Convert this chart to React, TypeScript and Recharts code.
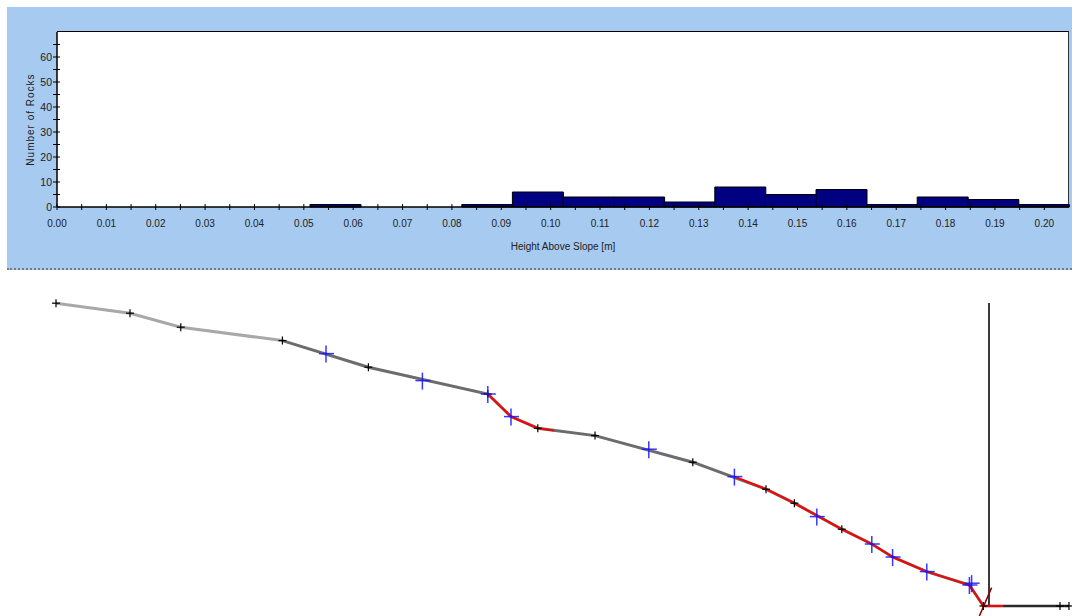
import React from 'react';
import { ComposedChart, Bar, XAxis, YAxis, ScatterChart, Scatter } from 'recharts';

// histogram: 20 equal bins over 0 .. 0.205 m
const BIN_WIDTH = 0.01025;
const rockCounts = [0, 0, 0, 0, 0, 1, 0, 0, 1, 6, 4, 4, 2, 8, 5, 7, 1, 4, 3, 1];
const heightTicks = [
  0, 0.005, 0.01, 0.015, 0.02, 0.025, 0.03, 0.035, 0.04, 0.045, 0.05, 0.055, 0.06, 0.065,
  0.07, 0.075, 0.08, 0.085, 0.09, 0.095, 0.1, 0.105, 0.11, 0.115, 0.12, 0.125, 0.13, 0.135,
  0.14, 0.145, 0.15, 0.155, 0.16, 0.165, 0.17, 0.175, 0.18, 0.185, 0.19, 0.195, 0.2,
];
const countTicks = [0, 5, 10, 15, 20, 25, 30, 35, 40, 45, 50, 55, 60, 65];

// slope profile, metres (x along, y elevation)
const upperSlope = [
  { x: 0.0, y: 15.14 },
  { x: 3.7, y: 14.64 },
  { x: 6.24, y: 13.94 },
  { x: 11.32, y: 13.27 },
];
const lowerSlope = [
  { x: 11.32, y: 13.27 },
  { x: 15.62, y: 11.94 },
  { x: 21.59, y: 10.6 },
  { x: 22.75, y: 9.47 },
  { x: 24.09, y: 8.89 },
  { x: 26.95, y: 8.52 },
  { x: 31.84, y: 7.19 },
  { x: 35.5, y: 5.84 },
  { x: 36.92, y: 5.14 },
  { x: 39.29, y: 3.84 },
  { x: 40.79, y: 3.1 },
  { x: 41.83, y: 2.45 },
  { x: 43.54, y: 1.72 },
  { x: 45.67, y: 1.05 },
  { x: 46.37, y: 0 },
];
const runout = [
  { x: 46.37, y: 0 },
  { x: 50.2, y: 0 },
  { x: 50.65, y: 0 },
];
const vertices = [
  { x: 0.0, y: 15.14 },
  { x: 3.7, y: 14.64 },
  { x: 6.24, y: 13.94 },
  { x: 11.32, y: 13.27 },
  { x: 15.62, y: 11.94 },
  { x: 21.59, y: 10.6 },
  { x: 24.09, y: 8.89 },
  { x: 26.95, y: 8.52 },
  { x: 31.84, y: 7.19 },
  { x: 35.5, y: 5.84 },
  { x: 36.92, y: 5.14 },
  { x: 39.29, y: 3.84 },
  { x: 46.37, y: 0 },
  { x: 50.2, y: 0 },
  { x: 50.65, y: 0 },
];
const impacts = [
  { x: 13.5, y: 12.62 },
  { x: 18.32, y: 11.27 },
  { x: 21.59, y: 10.6 },
  { x: 22.75, y: 9.47 },
  { x: 29.64, y: 7.84 },
  { x: 33.92, y: 6.47 },
  { x: 38.04, y: 4.47 },
  { x: 40.79, y: 3.1 },
  { x: 41.83, y: 2.45 },
  { x: 43.54, y: 1.72 },
  { x: 45.67, y: 1.05 },
  { x: 45.78, y: 1.14 },
];
const rollPath1 = [
  { x: 21.59, y: 10.6 },
  { x: 22.75, y: 9.47 },
  { x: 24.09, y: 8.89 },
  { x: 24.9, y: 8.78 },
];
const rollPath2 = [
  { x: 33.92, y: 6.47 },
  { x: 35.5, y: 5.84 },
  { x: 36.92, y: 5.14 },
  { x: 39.29, y: 3.84 },
  { x: 40.79, y: 3.1 },
  { x: 41.83, y: 2.45 },
  { x: 43.54, y: 1.72 },
  { x: 45.67, y: 1.05 },
  { x: 46.37, y: 0 },
  { x: 47.35, y: 0 },
];
const barrier = [
  { x: 46.65, y: 0 },
  { x: 46.65, y: 15.15 },
];
const stopMark = [
  { x: 46.17, y: -0.5 },
  { x: 46.78, y: 0.92 },
];

// empty bins get no rectangle at all
const histogram = rockCounts.map((count, i) => ({
  height: Number((BIN_WIDTH * (i + 0.5)).toFixed(6)),
  count: count > 0 ? count : null,
}));

const FONT = '"Liberation Sans", Arial, sans-serif';

function HeightTick({ x, y, payload }: any) {
  const v = payload.value as number;
  const major = Math.round(v * 1000) % 10 === 0;
  return (
    <g>
      <line x1={x} x2={x} y1={y - 3} y2={y + 3} stroke="#000" />
      {major && (
        <text x={x} y={y + 20} textAnchor="middle" fontSize={10} fill="#222">
          {v.toFixed(2)}
        </text>
      )}
    </g>
  );
}

function CountTick({ x, y, payload }: any) {
  const v = payload.value as number;
  const major = v % 10 === 0;
  return (
    <g>
      <line x1={x - 4} x2={x + 3} y1={y} y2={y} stroke="#000" />
      {major && (
        <text x={x - 5} y={y + 3.5} textAnchor="end" fontSize={10.5} fill="#222">
          {v}
        </text>
      )}
    </g>
  );
}

const noMark = () => <g />;
const smallCross = ({ cx, cy }: any) => (
  <g stroke="#000" strokeWidth={1.2}>
    <line x1={cx - 4} x2={cx + 4} y1={cy} y2={cy} />
    <line x1={cx} x2={cx} y1={cy - 4} y2={cy + 4} />
  </g>
);
const blueCross = ({ cx, cy }: any) => (
  <g stroke="#1414ff" strokeWidth={1.5} strokeOpacity={0.85}>
    <line x1={cx - 7} x2={cx + 8} y1={cy} y2={cy} />
    <line x1={cx} x2={cx} y1={cy - 8} y2={cy + 9} />
  </g>
);

export default function App() {
  return (
    <div style={{ position: 'absolute', left: 0, top: 0, width: 1072, height: 616, background: '#fff', fontFamily: FONT }}>
      <div
        style={{
          position: 'absolute',
          left: 7,
          top: 7,
          width: 1065,
          height: 261,
          background: '#A6CAF0',
          borderBottom: '2px dotted #7a7a7a',
        }}
      />
      {/* plot frame */}
      <div
        style={{
          position: 'absolute',
          left: 57,
          top: 31,
          width: 1011,
          height: 175,
          background: '#fff',
          borderTop: '1px solid #000',
          borderRight: '1px solid #333',
        }}
      />
      <div style={{ position: 'absolute', left: 0, top: 0 }}>
        <ComposedChart
          width={1072}
          height={290}
          data={histogram}
          margin={{ top: 32, right: 3, bottom: 5, left: 3 }}
          barCategoryGap={0}
          barGap={0}
        >
          <XAxis
            dataKey="height"
            type="number"
            domain={[0, 0.205]}
            ticks={heightTicks}
            interval={0}
            height={78}
            tickSize={0}
            tickMargin={0}
            tickLine={false}
            axisLine={{ stroke: '#000', strokeWidth: 1.5 }}
            tick={<HeightTick />}
            label={{ value: 'Height Above Slope [m]', position: 'center', fontSize: 10, fill: '#222' }}
          />
          <YAxis
            type="number"
            domain={[0, 70]}
            ticks={countTicks}
            interval={0}
            width={54}
            tickSize={0}
            tickMargin={0}
            tickLine={false}
            axisLine={{ stroke: '#000', strokeWidth: 1.5 }}
            tick={<CountTick />}
            label={{ value: 'Number of Rocks', angle: -90, position: 'center', fontSize: 10, fill: '#222', letterSpacing: 1 }}
          />
          <Bar dataKey="count" fill="#000080" stroke="#000" strokeWidth={1} isAnimationActive={false} />
        </ComposedChart>
      </div>
      <div style={{ position: 'absolute', left: 0, top: 290 }}>
        <ScatterChart width={1072} height={326} margin={{ top: 0, right: 0, bottom: 0, left: 0 }}>
          <XAxis type="number" dataKey="x" domain={[-2.8, 50.8]} hide allowDataOverflow />
          <YAxis type="number" dataKey="y" domain={[-0.5, 15.8]} hide allowDataOverflow />
          <Scatter data={upperSlope} line={{ stroke: '#a8a8a8', strokeWidth: 3 }} shape={noMark} isAnimationActive={false} />
          <Scatter data={lowerSlope} line={{ stroke: '#6c6c6c', strokeWidth: 3 }} shape={noMark} isAnimationActive={false} />
          <Scatter data={runout} line={{ stroke: '#2a2a2a', strokeWidth: 2.5 }} shape={noMark} isAnimationActive={false} />
          <Scatter data={barrier} line={{ stroke: '#3a3a3a', strokeWidth: 2 }} shape={noMark} isAnimationActive={false} />
          <Scatter data={rollPath1} line={{ stroke: '#ff0000', strokeWidth: 2 }} shape={noMark} isAnimationActive={false} />
          <Scatter data={rollPath2} line={{ stroke: '#ff0000', strokeWidth: 2 }} shape={noMark} isAnimationActive={false} />
          <Scatter data={stopMark} line={{ stroke: '#8b0000', strokeWidth: 1.5 }} shape={noMark} isAnimationActive={false} />
          <Scatter data={vertices} shape={smallCross} isAnimationActive={false} />
          <Scatter data={impacts} shape={blueCross} isAnimationActive={false} />
        </ScatterChart>
      </div>
    </div>
  );
}
